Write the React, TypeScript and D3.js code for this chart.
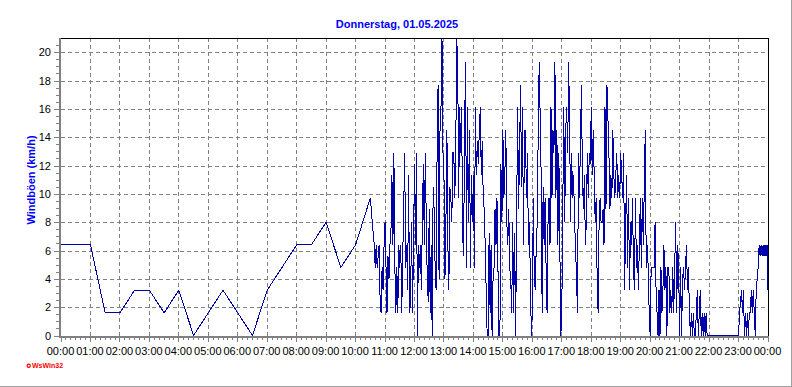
import React from 'react';
import * as d3 from 'd3';

// Gusts for the quiet morning, one reading every half hour (hours of day)
const morningHours = [0, 0.5, 1, 1.5, 2, 2.5, 3, 3.5, 4, 4.5, 5, 5.5, 6, 6.5, 7, 7.5, 8, 8.5, 9, 9.5, 10];
const morningGusts = [6.4, 6.4, 6.4, 1.6, 1.6, 3.2, 3.2, 1.6, 3.2, 0, 1.6, 3.2, 1.6, 0, 3.2, 4.8, 6.4, 6.4, 8.0, 4.8, 6.4];

// From 10:30 on the station logs every 2 minutes
const denseStartHour = 10.5;
const denseStepMinutes = 2;
const denseGusts = [
  9.7, 8.9, 8.0, 7.2, 6.4, 4.8, 6.4, 4.8, 5.6, 6.4, 2.4, 1.6, 4.8, 3.2, 6.4,
  8.0, 4.8, 1.6, 5.6, 4.0, 6.4, 7.2, 11.3, 6.4, 12.9, 4.8, 1.6, 4.8, 1.6, 6.4,
  4.8, 6.4, 1.6, 5.6, 8.9, 12.9, 4.8, 6.4, 3.2, 11.3, 1.6, 2.4, 8.0, 1.6, 6.4,
  12.1, 6.4, 12.9, 0, 6.4, 4.8, 6.4, 3.2, 8.0, 12.1, 6.4, 12.9, 8.0, 4.0, 2.4,
  8.9, 1.6, 6.4, 0, 10.5, 8.9, 4.8, 3.2, 12.9, 17.7, 4.0, 14.5, 16.1, 20.9, 12.9,
  11.3, 4.0, 8.0, 14.5, 6.4, 3.2, 10.5, 9.7, 8.0, 12.9, 12.9, 9.7, 12.9, 20.9, 19.3,
  9.7, 16.1, 12.9, 16.1, 7.2, 5.6, 14.5, 19.3, 4.8, 16.1, 8.0, 14.5, 4.8, 11.3, 8.0,
  11.3, 4.8, 16.1, 11.3, 13.7, 12.1, 14.5, 16.1, 11.3, 13.7, 9.7, 8.9, 6.4, 3.2, 0, 0,
  7.2, 1.6, 6.4, 0, 4.0, 4.8, 8.9, 6.4, 9.7, 4.8, 0, 0, 12.1, 8.0, 14.5,
  9.7, 11.3, 14.5, 8.0, 6.4, 8.9, 4.8, 4.0, 1.6, 8.0, 1.6, 7.2, 0, 8.0, 16.1,
  8.9, 12.9, 17.7, 10.5, 16.1, 6.4, 14.5, 14.5, 9.7, 12.9, 6.4, 8.0, 4.0, 0, 1.6,
  9.7, 4.0, 3.2, 6.4, 8.0, 14.5, 19.3, 15.3, 11.3, 1.6, 10.5, 6.4, 9.7, 4.8, 1.6,
  8.0, 9.7, 6.4, 16.1, 9.7, 14.5, 12.9, 19.3, 9.7, 14.5, 6.4, 12.9, 6.4, 0, 1.6,
  8.9, 16.1, 8.0, 14.5, 16.1, 12.9, 19.3, 14.5, 8.0, 12.9, 9.7, 11.3, 8.0, 6.4, 4.0,
  1.6, 12.9, 9.7, 13.7, 17.7, 11.3, 8.9, 11.3, 6.4, 8.0, 12.9, 9.7, 12.9, 12.1, 16.1,
  11.3, 14.5, 11.3, 8.0, 9.7, 4.0, 1.6, 8.0, 9.7, 8.0, 8.0, 8.9, 6.4, 16.1, 8.9,
  17.7, 15.3, 12.9, 8.9, 11.3, 9.7, 14.5, 11.3, 9.7, 11.3, 12.9, 9.7, 11.3, 9.7,
  12.9, 11.3, 9.7, 12.9, 3.2, 8.0, 11.3, 4.8, 9.7, 3.2, 8.0, 6.4, 9.7, 4.8, 3.2,
  9.7, 4.8, 6.4, 3.2, 6.4, 9.7, 4.8, 9.7, 6.4, 10.5, 14.5, 4.8, 6.4, 4.8, 1.6,
  0, 4.8, 4.8, 4.8, 4.8, 8.0, 3.2, 1.6, 0, 3.2, 0, 4.8, 1.6, 3.2, 6.4,
  3.2, 4.8, 0, 4.8, 4.8, 1.6, 3.2, 1.6, 4.8, 1.6, 4.8, 8.0, 1.6, 6.4, 4.8,
  0, 4.8, 0, 4.0, 4.8, 3.2, 4.8, 6.4, 3.2, 4.8, 1.6, 0, 1.6, 0, 1.6,
  0, 0, 1.6, 3.2, 0, 1.6, 3.2, 0, 1.6, 0, 1.6, 0, 1.6, 0,
  0, 0, 0, 0, 0, 0, 0, 0, 0, 0, 0, 0, 0, 0, 0, 0,
  0, 0, 0, 0, 0, 0, 0, 0, 0, 0, 0, 0, 0, 0, 0, 0,
  1.6, 2.4, 3.2, 1.6, 3.2, 0, 1.6, 0, 1.6, 0, 1.6, 1.6, 3.2, 1.6, 3.2,
  1.6, 0, 3.2, 4.0, 4.8, 6.4, 5.6, 6.4, 5.6, 6.4, 5.6, 6.4, 5.6, 6.4, 3.2,
];

const xTickLabels = [
  '00:00', '01:00', '02:00', '03:00', '04:00', '05:00', '06:00', '07:00', '08:00',
  '09:00', '10:00', '11:00', '12:00', '13:00', '14:00', '15:00', '16:00', '17:00',
  '18:00', '19:00', '20:00', '21:00', '22:00', '23:00', '00:00',
];
const yTicks = [0, 2, 4, 6, 8, 10, 12, 14, 16, 18, 20];

const title = 'Donnerstag, 01.05.2025';
const yTitle = 'Windböen (km/h)';

const W = 792;
const H = 387;
const left = 61;
const right = 768;
const top = 38;
const bottom = 335.5;

const font = '"Liberation Sans", Arial, sans-serif';
const gray = '#808080';

const App: React.FC = () => {
  const x = d3.scaleLinear().domain([0, 24]).range([left, right]);
  const y = d3.scaleLinear().domain([0, 21]).range([bottom, top]);

  const points: [number, number][] = [
    ...morningHours.map((h, i) => [h, morningGusts[i]] as [number, number]),
    ...denseGusts.map((v, i) => [denseStartHour + (i * denseStepMinutes) / 60, v] as [number, number]),
  ];

  const line = d3.line<[number, number]>()
    .x(d => x(d[0]))
    .y(d => y(d[1]));

  const hours = d3.range(0, 25);
  const minorX = d3.range(0, 24 * 6 + 1).map(k => k / 6);
  const minorY = d3.range(0, 42).map(k => k / 2);

  return (
    <svg width={W} height={H} viewBox={`0 0 ${W} ${H}`}
      style={{ position: 'absolute', left: 0, top: 0, background: '#fff' }}>
      <rect x={0} y={0} width={W} height={H} fill="#fff" />
      <line x1={W - 0.5} y1={0} x2={W - 0.5} y2={H} stroke="#a0a0a0" />
      <line x1={0} y1={H - 0.5} x2={W} y2={H - 0.5} stroke="#a0a0a0" />

      <text x={397} y={28} textAnchor="middle" fontFamily={font} fontSize={11}
        fontWeight="bold" fill="#0000ff">{title}</text>

      {/* grid */}
      <g shapeRendering="crispEdges" stroke={gray} strokeDasharray="4,3">
        {hours.slice(1, 24).map(h => (
          <line key={'gx' + h} x1={Math.floor(x(h)) + 0.5} x2={Math.floor(x(h)) + 0.5} y1={top} y2={bottom} />
        ))}
        {yTicks.slice(1).map(v => (
          <line key={'gy' + v} x1={left} x2={right} y1={Math.round(y(v)) + 0.5} y2={Math.round(y(v)) + 0.5} />
        ))}
      </g>

      {/* frame */}
      <g shapeRendering="crispEdges">
        <line x1={left - 1} x2={right + 0.5} y1={top + 0.5} y2={top + 0.5} stroke="#000" />
        <line x1={right + 0.5} x2={right + 0.5} y1={top} y2={bottom + 1} stroke="#000" />
      </g>

      <path d={line(points) ?? ''} fill="none" stroke="#0000a8" strokeWidth={1}
        shapeRendering="crispEdges" />

      {/* axes */}
      <g shapeRendering="crispEdges" stroke={gray}>
        <line x1={60} x2={60} y1={top} y2={338} strokeWidth={2} />
        <line x1={59} x2={right + 1} y1={337} y2={337} strokeWidth={2} />
        {minorX.map((h, k) => (
          <line key={'tx' + k} x1={Math.floor(x(h)) + 0.5} x2={Math.floor(x(h)) + 0.5}
            y1={338} y2={k % 6 === 0 ? 342 : 340} />
        ))}
        {minorY.map((v, k) => (
          <line key={'ty' + k} x1={k % 4 === 0 ? 54 : 56} x2={59}
            y1={Math.round(y(v)) + 0.5} y2={Math.round(y(v)) + 0.5} />
        ))}
      </g>

      {xTickLabels.map((lab, i) => (
        <text key={'xl' + i} x={x(i) - 0.5} y={355} textAnchor="middle" fontFamily={font}
          fontSize={11} fill="#000">{lab}</text>
      ))}
      {yTicks.map(v => (
        <text key={'yl' + v} x={51} y={y(v) + 4} textAnchor="end" fontFamily={font}
          fontSize={11} fill="#000">{v}</text>
      ))}

      <text transform={`translate(34.5, 180) rotate(-90)`} textAnchor="middle" fontFamily={font}
        fontSize={11} fontWeight="bold" fill="#0000ff">{yTitle}</text>

      <circle cx={28.7} cy={365.7} r={1.6} fill="none" stroke="#ff0000" strokeWidth={1.2} />
      <text x={32} y={368.3} fontFamily={font} fontSize={7} fontWeight="bold" fill="#ff0000">WsWin32</text>
    </svg>
  );
};

export default App;
